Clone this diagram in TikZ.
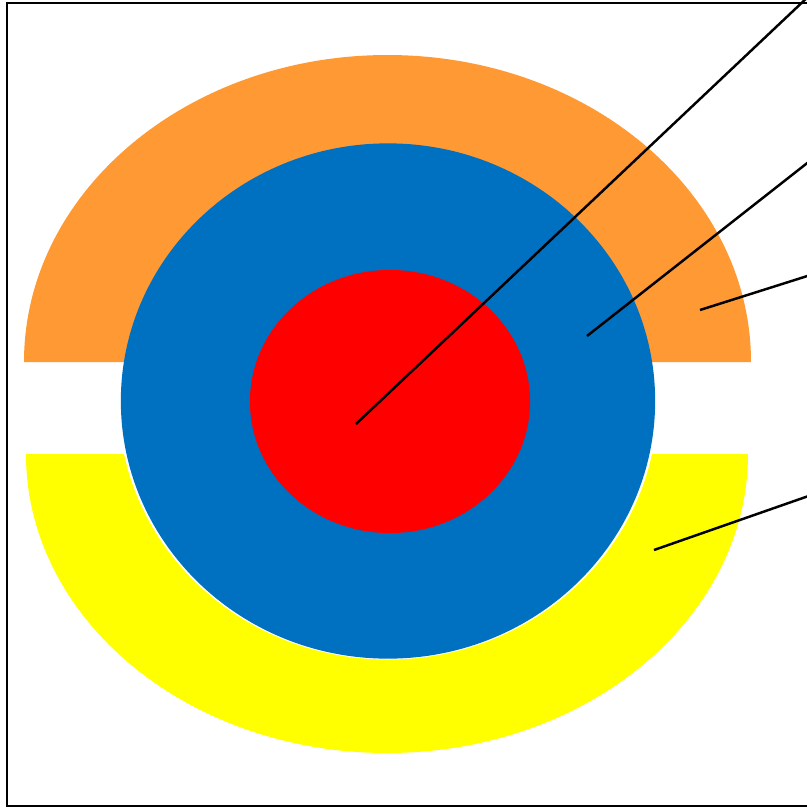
\documentclass[tikz,border=0pt]{standalone}
\usepackage{xcolor}
\definecolor{ringOrange}{RGB}{255,153,51}
\definecolor{ringYellow}{RGB}{255,255,0}
\definecolor{coreBlue}{RGB}{0,112,192}
\definecolor{coreRed}{RGB}{255,0,0}
\usepackage{tikz}
\usetikzlibrary{shapes,positioning,calc}
\tikzstyle{core}=[ellipse, inner sep=0pt, draw=none]
\tikzstyle{leader}=[draw=black, line width=0.7pt]

\begin{document}
\begin{tikzpicture}[x=0.01cm,y=-0.01cm]
  \useasboundingbox (0,0) rectangle (807,808);
  \clip (0,0) rectangle (807,808);
  \draw[line width=0.7pt] (7,3) rectangle (830,806);
  % half rings
  \fill[ringOrange] (24,362) arc[start angle=180,end angle=360,x radius=363.5,y radius=307] -- cycle;
  \fill[ringYellow] (26,454) arc[start angle=180,end angle=0,x radius=361,y radius=299] -- cycle;
  \begin{scope}
    \clip (0,454) rectangle (807,808);
    \fill[white] (388,401.5) ellipse[x radius=269.5,y radius=258];
  \end{scope}
  % core
  \node[core, fill=coreBlue, minimum width=5.34cm, minimum height=5.15cm] (blue) at (388,401) {};
  \node[core, fill=coreRed, minimum width=2.8cm, minimum height=2.63cm] (red) at (390,401.5) {};
  % leaders
  \coordinate (tipRed) at (356,424);
  \coordinate (tipBlue) at (587,336);
  \coordinate (tipOrange) at (700,310);
  \coordinate (tipYellow) at (654,550);
  \coordinate (endRed) at (810,-5);
  \coordinate (endBlue) at (820,153);
  \coordinate (endOrange) at (820,272);
  \coordinate (endYellow) at (820,492);
  \foreach \a/\b in {tipRed/endRed,tipBlue/endBlue,tipOrange/endOrange,tipYellow/endYellow}
    \draw[leader] (\a) -- (\b);
\end{tikzpicture}
\end{document}
